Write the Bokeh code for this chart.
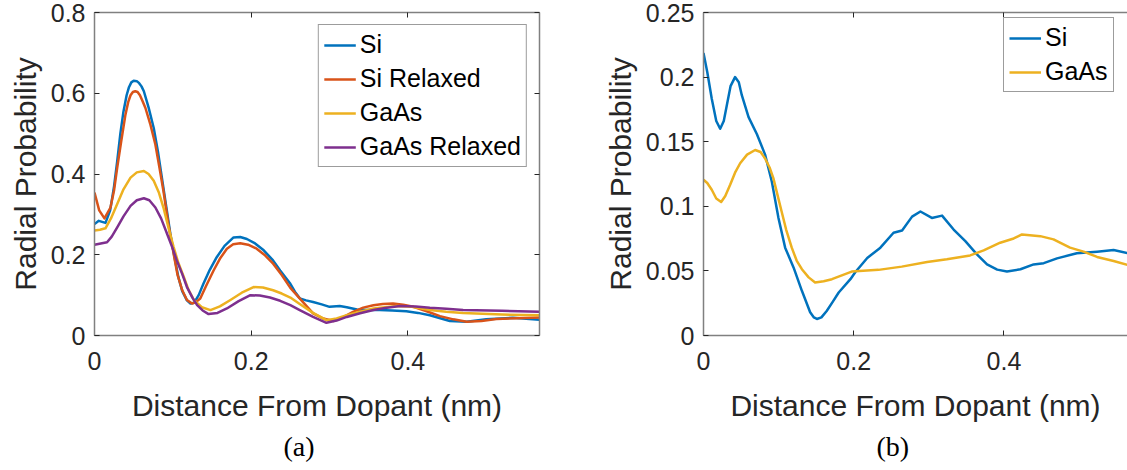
from bokeh.plotting import figure
from bokeh.layouts import row
from bokeh.models import Range1d, LinearAxis, FixedTicker, Title
from bokeh.embed import file_html
from bokeh.resources import INLINE

# ---------------- data ----------------
# panel (a)
a_si_x = [0, 0.0055, 0.014, 0.020, 0.025, 0.029, 0.033, 0.037, 0.041, 0.044, 0.047, 0.050, 0.054, 0.057,
          0.060, 0.063, 0.069, 0.0756, 0.081, 0.086, 0.0915, 0.0968, 0.102, 0.107, 0.112, 0.118, 0.1225,
          0.127, 0.133, 0.139, 0.147, 0.156, 0.166, 0.1775, 0.186, 0.1945, 0.205, 0.216, 0.227, 0.237,
          0.25, 0.256, 0.262, 0.27, 0.279, 0.29, 0.30, 0.313, 0.322, 0.335, 0.35, 0.364, 0.38, 0.398,
          0.413, 0.428, 0.4535, 0.475, 0.50, 0.534, 0.568]
a_si_y = [0.276, 0.284, 0.279, 0.31, 0.37, 0.432, 0.50, 0.555, 0.595, 0.615, 0.627, 0.631, 0.630, 0.625,
          0.617, 0.605, 0.565, 0.514, 0.455, 0.391, 0.32, 0.252, 0.195, 0.145, 0.11, 0.087, 0.079,
          0.081, 0.10, 0.128, 0.162, 0.194, 0.222, 0.243, 0.244, 0.239, 0.228, 0.211, 0.188, 0.161,
          0.128, 0.108, 0.092, 0.087, 0.083, 0.077, 0.071, 0.073, 0.070, 0.0645, 0.063, 0.063, 0.062, 0.060,
          0.056, 0.050, 0.036, 0.034, 0.040, 0.044, 0.039]

a_sir_x = [0, 0.006, 0.0127, 0.0204, 0.025, 0.029, 0.034, 0.0395, 0.043, 0.046, 0.049, 0.052, 0.055,
           0.058, 0.061, 0.065, 0.071, 0.0777, 0.083, 0.088, 0.094, 0.101, 0.106, 0.112, 0.118, 0.1245,
           0.129, 0.135, 0.143, 0.152, 0.160, 0.169, 0.177, 0.186, 0.196, 0.207, 0.218, 0.228, 0.239,
           0.25, 0.265, 0.279, 0.292, 0.305, 0.317, 0.330, 0.343, 0.356, 0.368, 0.381, 0.394, 0.407,
           0.424, 0.441, 0.458, 0.475, 0.494, 0.513, 0.54, 0.568]
a_sir_y = [0.354, 0.31, 0.290, 0.317, 0.36, 0.416, 0.48, 0.547, 0.578, 0.595, 0.603, 0.605, 0.603,
           0.595, 0.582, 0.5635, 0.525, 0.473, 0.415, 0.358, 0.28, 0.2025, 0.15, 0.112, 0.088, 0.079,
           0.082, 0.0916, 0.125, 0.161, 0.19, 0.215, 0.226, 0.2286, 0.225, 0.215, 0.198, 0.178, 0.15,
           0.118, 0.085, 0.0547, 0.042, 0.0357, 0.045, 0.0587, 0.069, 0.075, 0.078, 0.079, 0.076, 0.071,
           0.060, 0.048, 0.040, 0.034, 0.036, 0.0406, 0.043, 0.0448]

a_gaas_x = [0, 0.007, 0.014, 0.021, 0.029, 0.037, 0.046, 0.054, 0.063, 0.069, 0.0756, 0.082, 0.088,
            0.094, 0.101, 0.107, 0.114, 0.12, 0.127, 0.137, 0.148, 0.16, 0.173, 0.188, 0.203, 0.215,
            0.228, 0.239, 0.25, 0.262, 0.279, 0.296, 0.309, 0.322, 0.339, 0.356, 0.3855, 0.405, 0.428,
            0.449, 0.4705, 0.52, 0.568]
a_gaas_y = [0.260, 0.262, 0.2655, 0.29, 0.3256, 0.362, 0.391, 0.404, 0.4076, 0.400, 0.383, 0.355, 0.317,
            0.27, 0.219, 0.18, 0.145, 0.113, 0.0874, 0.07, 0.063, 0.072, 0.0874, 0.106, 0.120, 0.119,
            0.112, 0.104, 0.094, 0.078, 0.056, 0.038, 0.042, 0.050, 0.059, 0.067, 0.073, 0.071, 0.063,
            0.059, 0.056, 0.052, 0.050]

a_gaasr_x = [0, 0.008, 0.016, 0.022, 0.029, 0.037, 0.046, 0.054, 0.063, 0.07, 0.0777, 0.085, 0.0926,
             0.099, 0.105, 0.112, 0.118, 0.125, 0.131, 0.138, 0.1456, 0.157, 0.169, 0.184, 0.199, 0.211,
             0.224, 0.237, 0.25, 0.262, 0.279, 0.296, 0.309, 0.322, 0.339, 0.356, 0.373, 0.39, 0.41,
             0.428, 0.449, 0.4705, 0.52, 0.568]
a_gaasr_y = [0.2246, 0.228, 0.231, 0.245, 0.268, 0.295, 0.321, 0.335, 0.340, 0.335, 0.317, 0.29, 0.252,
             0.22, 0.186, 0.152, 0.120, 0.094, 0.075, 0.062, 0.053, 0.056, 0.067, 0.085, 0.0998, 0.099,
             0.094, 0.086, 0.075, 0.063, 0.046, 0.0315, 0.037, 0.046, 0.055, 0.063, 0.069, 0.073, 0.072,
             0.0685, 0.066, 0.063, 0.061, 0.0587]

# panel (b)
b_si_x = [0, 0.005, 0.011, 0.017, 0.0222, 0.027, 0.031, 0.036, 0.042, 0.047, 0.051, 0.060, 0.071, 0.082,
          0.091, 0.0998, 0.1087, 0.120, 0.131, 0.142, 0.147, 0.151, 0.157, 0.164, 0.172, 0.180, 0.1956,
          0.202, 0.218, 0.2355, 0.253, 0.2644, 0.2777, 0.2888, 0.304, 0.3176, 0.333, 0.3486, 0.364,
          0.3775, 0.391, 0.404, 0.422, 0.4395, 0.453, 0.4707, 0.497, 0.524, 0.546, 0.5645]
b_si_y = [0.2187, 0.204, 0.1833, 0.166, 0.160, 0.166, 0.178, 0.193, 0.200, 0.196, 0.186, 0.169, 0.156,
          0.140, 0.119, 0.091, 0.068, 0.0525, 0.0346, 0.018, 0.014, 0.0128, 0.014, 0.019, 0.026, 0.0333,
          0.0436, 0.049, 0.060, 0.068, 0.0795, 0.0813, 0.092, 0.096, 0.091, 0.0928, 0.082, 0.073, 0.0628,
          0.055, 0.051, 0.0495, 0.0513, 0.055, 0.056, 0.0597, 0.0636, 0.0649, 0.0662, 0.0638]

b_gaas_x = [0, 0.005, 0.011, 0.017, 0.0235, 0.029, 0.0355, 0.042, 0.0488, 0.058, 0.0688, 0.076, 0.082,
            0.088, 0.093, 0.098, 0.104, 0.11, 0.1175, 0.124, 0.131, 0.14, 0.1486, 0.16, 0.171, 0.1973,
            0.233, 0.264, 0.2977, 0.324, 0.355, 0.373, 0.395, 0.413, 0.424, 0.4484, 0.466, 0.488, 0.506,
            0.524, 0.546, 0.5645]
b_gaas_y = [0.1205, 0.118, 0.1128, 0.106, 0.1033, 0.108, 0.1167, 0.126, 0.1333, 0.140, 0.1436, 0.142,
            0.137, 0.130, 0.1218, 0.11, 0.096, 0.082, 0.068, 0.058, 0.0513, 0.045, 0.041, 0.042, 0.0436,
            0.0495, 0.0508, 0.0533, 0.0569, 0.059, 0.062, 0.0659, 0.0718, 0.0751, 0.0782, 0.0769, 0.0744,
            0.068, 0.0649, 0.0608, 0.0577, 0.0546]

x_ticks = [0, 0.2, 0.4]
x_tick_labels = ["0", "0.2", "0.4"]
a_y_ticks = [0, 0.2, 0.4, 0.6, 0.8]
a_y_tick_labels = ["0", "0.2", "0.4", "0.6", "0.8"]
b_y_ticks = [0, 0.05, 0.1, 0.15, 0.2, 0.25]
b_y_tick_labels = ["0", "0.05", "0.1", "0.15", "0.2", "0.25"]

a_names = ["Si", "Si Relaxed", "GaAs", "GaAs Relaxed"]
b_names = ["Si", "GaAs"]

C_BLUE, C_RED, C_YEL, C_PUR = "#0072BD", "#D95319", "#EDB120", "#7E2F8E"

FONT = "Liberation Sans"
TXT = "#262626"
AXC = "#808080"


def style_axis(ax, ticks, labels, show_labels=True):
    ax.ticker = FixedTicker(ticks=ticks)
    ax.minor_tick_line_color = None
    ax.major_tick_in = 5
    ax.major_tick_out = 0
    ax.major_tick_line_color = TXT
    ax.major_tick_line_width = 1
    ax.axis_line_color = AXC
    ax.axis_line_width = 1.5
    if show_labels:
        ax.major_label_overrides = {t: l for t, l in zip(ticks, labels)}
        ax.major_label_text_font = FONT
        ax.major_label_text_font_size = "25px"
        ax.major_label_text_color = TXT
    else:
        ax.major_label_overrides = {t: "" for t in ticks}
        ax.major_label_text_font_size = "0px"
        ax.major_label_standoff = 0


def make_fig(width, xmax, ymax, border_left, border_right, yticks, ylabels, right_axis, caption, cap_off):
    p = figure(width=width, height=470, output_backend="svg", toolbar_location=None,
               x_range=Range1d(0, xmax), y_range=Range1d(0, ymax),
               min_border_left=border_left, min_border_right=border_right,
               min_border_top=12, min_border_bottom=135)
    p.outline_line_color = None
    p.grid.visible = False
    p.background_fill_color = "white"
    p.border_fill_color = "white"
    style_axis(p.xaxis[0], x_ticks, x_tick_labels)
    style_axis(p.yaxis[0], yticks, ylabels)
    p.xaxis[0].major_label_standoff = 16
    p.yaxis[0].major_label_standoff = 9
    p.xaxis.axis_label = "Distance From Dopant (nm)"
    p.yaxis.axis_label = "Radial Probability"
    for ax in (p.xaxis[0], p.yaxis[0]):
        ax.axis_label_text_font = FONT
        ax.axis_label_text_font_size = "30px"
        ax.axis_label_text_font_style = "normal"
        ax.axis_label_text_color = TXT
    p.xaxis[0].axis_label_standoff = 16
    p.yaxis[0].axis_label_standoff = 6
    top = LinearAxis()
    style_axis(top, x_ticks, x_tick_labels, show_labels=False)
    p.add_layout(top, "above")
    if right_axis:
        r = LinearAxis()
        style_axis(r, yticks, ylabels, show_labels=False)
        p.add_layout(r, "right")
    cap = Title(text=caption, align="left", offset=cap_off, standoff=9,
                text_font="Liberation Serif", text_font_size="28px",
                text_font_style="normal", text_color="black")
    p.add_layout(cap, "below")
    return p


def style_legend(p):
    lg = p.legend[0]
    lg.label_text_font = FONT
    lg.label_text_font_size = "25px"
    lg.label_text_color = "black"
    lg.border_line_color = "#3a3a3a"
    lg.border_line_width = 1
    lg.background_fill_color = "white"
    lg.background_fill_alpha = 1
    lg.glyph_width = 32
    lg.glyph_height = 28
    lg.label_height = 28
    lg.label_standoff = 4
    lg.spacing = 5
    lg.padding = 5


# ---------------- panel (a) ----------------
p1 = make_fig(563, 0.568, 0.8, 94, 24, a_y_ticks, a_y_tick_labels, True, "(a)", 189)
for xs, ys, c, n in [(a_si_x, a_si_y, C_BLUE, a_names[0]),
                     (a_sir_x, a_sir_y, C_RED, a_names[1]),
                     (a_gaas_x, a_gaas_y, C_YEL, a_names[2]),
                     (a_gaasr_x, a_gaasr_y, C_PUR, a_names[3])]:
    p1.line(xs, ys, line_color=c, line_width=2.5, line_join="round", legend_label=n)
style_legend(p1)
p1.legend[0].location = "top_right"
p1.legend[0].margin = 12

# ---------------- panel (b) ----------------
p2 = make_fig(564, 0.5645, 0.25, 140, 0, b_y_ticks, b_y_tick_labels, False, "(b)", 173)
for xs, ys, c, n in [(b_si_x, b_si_y, C_BLUE, b_names[0]),
                     (b_gaas_x, b_gaas_y, C_YEL, b_names[1])]:
    p2.line(xs, ys, line_color=c, line_width=2.5, line_join="round", legend_label=n)
style_legend(p2)
p2.legend[0].location = (300, 243)

layout = row(p1, p2, spacing=0)
open("out.html", "w").write(file_html(layout, INLINE))
